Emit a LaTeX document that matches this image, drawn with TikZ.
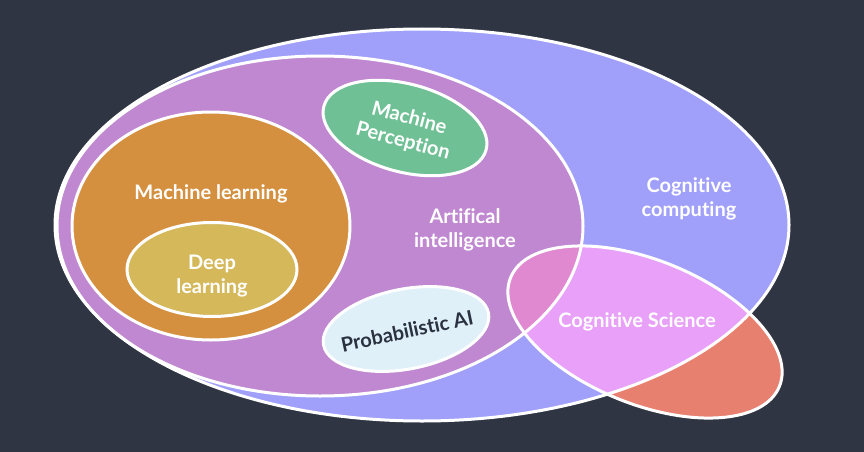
\documentclass[tikz,border=0pt]{standalone}
\usepackage{fontspec}
\setmainfont{Lato}[Ligatures=NoCommon]
\definecolor{bg}{HTML}{2F3542}
\definecolor{cogcomp}{HTML}{A0A0FA}
\definecolor{aicol}{HTML}{C088D0}
\definecolor{mlcol}{HTML}{D4903F}
\definecolor{dlcol}{HTML}{D4B85A}
\definecolor{mpcol}{HTML}{70C095}
\definecolor{pacol}{HTML}{E0F0F8}
\definecolor{cscol}{HTML}{E88070}
\definecolor{csblue}{HTML}{E8A0F8}
\definecolor{csai}{HTML}{E088D0}
\definecolor{darktext}{HTML}{2A3140}
\tikzset{
  outline/.style={draw=white, line width=3pt},
  lbl/.style={text=white, font=\bfseries\fontsize{20}{24}\selectfont, align=center, inner sep=0pt},
}
\begin{document}
\begin{tikzpicture}[x=1pt,y=-1pt]
\fill[bg] (0,0) rectangle (864,452);
\useasboundingbox (0,0) rectangle (864,452);
% fills
\fill[cogcomp] (422,225) ellipse [x radius=367, y radius=196];
\fill[aicol] (320,226) ellipse [x radius=263, y radius=170];
\fill[cscol, rotate around={-22:(645,332)}] (645,332) ellipse [x radius=145, y radius=72];
\begin{scope}
  \clip[rotate around={-22:(645,332)}] (645,332) ellipse [x radius=145, y radius=72];
  \fill[csblue] (422,225) ellipse [x radius=367, y radius=196];
  \fill[csai] (320,226) ellipse [x radius=263, y radius=170];
\end{scope}
% outlines of big sets
\draw[outline] (422,225) ellipse [x radius=367, y radius=196];
\draw[outline] (320,226) ellipse [x radius=263, y radius=170];
\draw[outline, rotate around={-22:(645,332)}] (645,332) ellipse [x radius=145, y radius=72];
% inner sets
\draw[outline, fill=mlcol] (211,226) ellipse [x radius=139, y radius=114];
\draw[outline, fill=dlcol] (212,269.5) ellipse [x radius=85, y radius=47];
\draw[outline, fill=mpcol, rotate around={-15:(405,128)}] (405,128) ellipse [x radius=84, y radius=44];
\draw[outline, fill=pacol, rotate around={11:(406,329)}] (406,329) ellipse [x radius=84, y radius=40];
% labels
\node[lbl] (ml) at (211,194) {Machine learning};
\node[lbl] (dl) at (212,276) {Deep\\learning};
\node[lbl] (ai) at (465,230) {Artifical\\intelligence};
\node[lbl] (cc) at (689,199) {Cognitive\\computing};
\node[lbl] (cs) at (637,322) {Cognitive Science};
\node[lbl, rotate=-15] (mp) at (406,130) {Machine\\Perception};
\node[lbl, text=darktext, rotate=12] (pa) at (407,331) {Probabilistic AI};
\end{tikzpicture}
\end{document}
